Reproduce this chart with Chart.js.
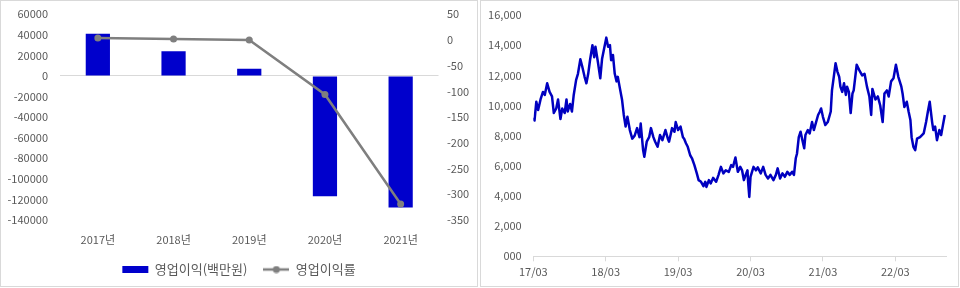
<!DOCTYPE html>
<html>
<head>
<meta charset="utf-8">
<script src="https://cdn.jsdelivr.net/npm/chart.js@4"></script>
<style>
  html, body { margin: 0; padding: 0; background: #fff; }
  body { width: 960px; height: 288px; position: relative; overflow: hidden; }
  .panel { position: absolute; top: 0; height: 287px; box-sizing: border-box; border: 1px solid #d9d9d9; }
  canvas { position: absolute; top: 0; }
</style>
</head>
<body>
<div class="panel" style="left:0; width:478px"></div>
<div class="panel" style="left:480px; width:479px"></div>
<canvas id="profitChart" style="left:0; width:478px; height:287px" width="478" height="287"></canvas>
<canvas id="priceChart" style="left:480px; width:479px; height:287px" width="479" height="287"></canvas>
<script>
// left: 영업이익 / 영업이익률
const years = ['2017년', '2018년', '2019년', '2020년', '2021년'];
const operatingProfit = [41000, 24000, 7000, -117000, -128000];
const operatingMargin = [4, 2, 0, -106, -319];

// right: share price, x = months since 2017/03
const priceTickMonths = [0, 12, 24, 36, 48, 60];
const priceTickLabels = ['17/03', '18/03', '19/03', '20/03', '21/03', '22/03'];
const priceMonths = [
    0, 0.2, 0.5, 0.8, 1.2, 1.6, 1.9, 2.3, 2.7, 3.1,
    3.4, 3.8, 4.1, 4.5, 4.8, 5.2, 5.5, 5.7, 6.1, 6.4,
    6.7, 7.1, 7.4, 7.8, 8.1, 8.5, 8.8, 9.1, 9.4, 9.8,
    10.1, 10.3, 10.7, 11.1, 11.4, 11.7, 12.1, 12.4, 12.7, 12.9,
    13.2, 13.5, 13.8, 14.0, 14.3, 14.7, 15.0, 15.3, 15.6, 16.0,
    16.4, 16.8, 17.2, 17.6, 17.8, 18.2, 18.4, 18.8, 19.2, 19.5,
    19.9, 20.2, 20.6, 21.0, 21.4, 21.9, 22.3, 22.5, 23.0, 23.4,
    23.6, 24.0, 24.4, 24.8, 25.0, 25.3, 25.6, 26.0, 26.3, 26.7,
    27.1, 27.4, 27.8, 28.2, 28.5, 28.7, 29.1, 29.4, 29.8, 30.3,
    30.7, 31.1, 31.5, 31.9, 32.4, 32.8, 33.1, 33.5, 33.9, 34.3,
    34.6, 34.9, 35.2, 35.5, 35.6, 35.8, 36.0, 36.5, 36.9, 37.2,
    37.7, 38.1, 38.5, 38.9, 39.3, 39.8, 40.2, 40.5, 40.9, 41.3,
    41.7, 42.1, 42.5, 42.9, 43.2, 43.5, 43.7, 44.0, 44.3, 44.6,
    44.9, 45.1, 45.5, 45.8, 46.2, 46.5, 46.8, 47.2, 47.5, 47.7,
    48.0, 48.4, 48.8, 49.3, 49.5, 49.8, 50.1, 50.4, 50.7, 50.9,
    51.2, 51.5, 51.8, 52.0, 52.3, 52.6, 52.9, 53.1, 53.6, 54.0,
    54.5, 54.9, 55.3, 55.7, 56.0, 56.2, 56.7, 57.1, 57.5, 57.9,
    58.2, 58.6, 58.9, 59.3, 59.7, 60.1, 60.5, 61.0, 61.2, 61.5,
    61.9, 62.2, 62.5, 62.7, 63.0, 63.3, 63.6, 64.1, 64.7, 65.1,
    65.4, 65.7, 66.1, 66.3, 66.6, 66.9, 67.3, 67.6, 67.8, 68.2
];
const prices = [
    9200, 9000, 10250, 9700, 10400, 10900, 10700, 11470, 10900, 10600,
    9500, 9800, 10400, 9100, 9800, 9500, 10400, 9600, 10100, 9600,
    10700, 11700, 12100, 13070, 12600, 11900, 11470, 12100, 13000, 14000,
    13200, 13900, 12900, 11800, 13100, 13700, 14500, 13900, 14000, 13000,
    13350, 12100, 11600, 11900, 11250, 10400, 9370, 8600, 9250, 8370,
    7800, 8000, 8500, 7900, 8800, 7040, 6600, 7600, 7900, 8500,
    7900, 7600, 7260, 8040, 7700, 8370, 7800, 7600, 8500, 8260,
    8900, 8370, 8600, 7900, 7800, 7500, 7260, 6700, 6500, 6050,
    5500, 5050, 4940, 4650, 4940, 4600, 5050, 4830, 5200, 4940,
    5400, 5930, 5500, 5700, 5600, 6050, 5930, 6550, 5600, 5930,
    5700, 5050, 5400, 5700, 4940, 3940, 5270, 5930, 5700, 5900,
    5500, 5930, 5400, 5160, 5400, 5050, 5400, 5830, 5160, 5500,
    5270, 5600, 5400, 5600, 5400, 6500, 6800, 7900, 8260, 7700,
    7160, 8040, 8370, 8150, 8900, 8370, 8800, 9370, 9600, 9800,
    9250, 8700, 8900, 9600, 11000, 11900, 12800, 12250, 11900, 11250,
    10900, 11470, 10700, 11250, 10900, 9500, 10800, 11000, 12700, 12360,
    12000, 12100, 11250, 10600, 9370, 11100, 10400, 10600, 10000, 8900,
    10800, 11000, 10600, 11600, 11800, 12700, 11900, 11250, 10800, 9900,
    10250, 9600, 9040, 7900, 7260, 7040, 7800, 7900, 8150, 8900,
    9600, 10250, 8900, 8370, 8600, 7700, 8370, 8040, 8500, 9370
];

Chart.defaults.font.family = "'Noto Sans CJK KR', 'Liberation Sans', sans-serif";
Chart.defaults.font.size = 11;
Chart.defaults.color = '#595959';

const GRAY = '#7f7f7f';
const BLUE = '#0000cc';
const NONE = 'rgba(0,0,0,0)';

// legend mark for the line series: short line with a dot
const lineMark = document.createElement('canvas');
lineMark.width = 26;
lineMark.height = 8;
const lm = lineMark.getContext('2d');
lm.strokeStyle = GRAY;
lm.lineWidth = 2.5;
lm.beginPath(); lm.moveTo(0, 4); lm.lineTo(26, 4); lm.stroke();
lm.fillStyle = GRAY;
lm.beginPath(); lm.arc(13, 4, 3.5, 0, Math.PI * 2); lm.fill();

// label gaps are made with invisible tick marks (tick padding also pushes the plot down)
new Chart(document.getElementById('profitChart'), {
    data: {
        labels: years,
        datasets: [{
            type: 'bar',
            label: '영업이익(백만원)',
            data: operatingProfit,
            backgroundColor: BLUE,
            yAxisID: 'y',
            order: 1,
            barPercentage: 0.32,
            categoryPercentage: 1
        }, {
            type: 'line',
            label: '영업이익률',
            data: operatingMargin,
            borderColor: GRAY,
            backgroundColor: GRAY,
            borderWidth: 2.5,
            pointRadius: 3.5,
            pointBorderWidth: 0,
            pointBackgroundColor: GRAY,
            yAxisID: 'y1',
            order: 0,
            tension: 0
        }]
    },
    options: {
        responsive: false,
        animation: false,
        layout: { padding: { top: 14.3, bottom: 1 } },
        plugins: {
            tooltip: { enabled: false },
            legend: {
                position: 'bottom',
                reverse: true,
                labels: {
                    usePointStyle: true,
                    pointStyleWidth: 26,
                    boxHeight: 7,
                    padding: 16,
                    font: { size: 13 },
                    color: '#595959',
                    generateLabels: chart =>
                        Chart.defaults.plugins.legend.labels.generateLabels(chart).map(item => {
                            item.pointStyle = item.datasetIndex === 0 ? 'rect' : lineMark;
                            return item;
                        })
                }
            }
        },
        scales: {
            x: {
                grid: { display: false, drawTicks: false },
                border: { display: false },
                ticks: { padding: 13.4 },
                afterFit: s => { s.height = 27.1; }
            },
            y: {
                position: 'left',
                min: -140000,
                max: 60000,
                ticks: { stepSize: 20000, padding: 0, callback: v => String(v) },
                grid: {
                    tickLength: 12,
                    tickColor: NONE,
                    color: ctx => ctx.tick && ctx.tick.value === 0 ? '#d9d9d9' : NONE
                },
                border: { display: false },
                afterFit: s => { s.width = 60; }
            },
            y1: {
                position: 'right',
                min: -350,
                max: 50,
                ticks: { stepSize: 50, padding: 0, callback: v => String(v) },
                grid: { display: false, tickLength: 8.5 },
                border: { display: false },
                afterFit: s => { s.width = 39.5; }
            }
        }
    }
});

new Chart(document.getElementById('priceChart'), {
    type: 'line',
    data: {
        datasets: [{
            data: priceMonths.map((m, i) => ({ x: m, y: prices[i] })),
            borderColor: '#0000c0',
            borderWidth: 2.5,
            borderJoinStyle: 'round',
            pointRadius: 0,
            tension: 0
        }]
    },
    options: {
        responsive: false,
        animation: false,
        layout: { padding: { top: 15, right: 13 } },
        plugins: { legend: { display: false }, tooltip: { enabled: false } },
        scales: {
            x: {
                type: 'linear',
                min: 0,
                max: 68.4,
                afterBuildTicks: s => { s.ticks = priceTickMonths.map(v => ({ value: v })); },
                ticks: {
                    padding: 4,
                    autoSkip: false,
                    maxRotation: 0,
                    callback: v => priceTickLabels[priceTickMonths.indexOf(v)]
                },
                grid: { drawOnChartArea: false, tickLength: 5, color: '#d9d9d9' },
                border: { color: '#d9d9d9' },
                afterFit: s => { s.height = 30.7; }
            },
            y: {
                min: 0,
                max: 16000,
                ticks: {
                    stepSize: 2000,
                    padding: 0,
                    callback: v => v === 0 ? '000' : v.toLocaleString('en-US')
                },
                grid: { display: false, tickLength: 11.6 },
                border: { display: false },
                afterFit: s => { s.width = 53.3; }
            }
        }
    }
});
</script>
</body>
</html>
